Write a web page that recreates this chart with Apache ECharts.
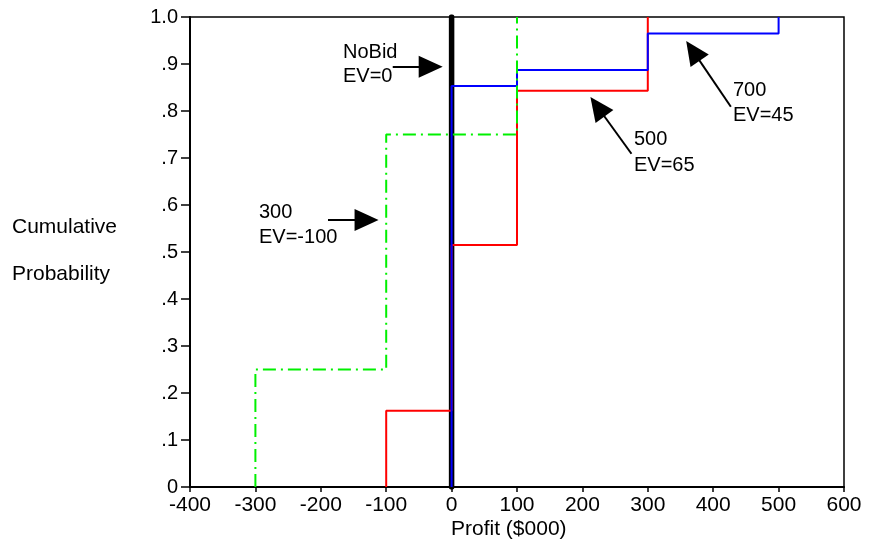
<!DOCTYPE html>
<html>
<head>
    <meta charset="UTF-8">
    <title>Cumulative Probability</title>
    <script src="https://cdn.jsdelivr.net/npm/echarts@6/dist/echarts.min.js"></script>
    <style>
        html, body { margin: 0; padding: 0; background: #fff; }
        #main { width: 869px; height: 548px; }
    </style>
</head>
<body>
    <div id="main"></div>
    <script type="text/javascript">
        // 各方案的利润跳点和累计概率
        var noBidProfit = [0, 0];
        var noBidCum = [0, 1.0];
        var bid300Profit = [-300, -300, -100, 100];
        var bid300Cum = [0, 0.25, 0.75, 1.0];
        var bid500Profit = [-100, -100, 0, 100, 300];
        var bid500Cum = [0, 0.162, 0.515, 0.843, 1.0];
        var bid700Profit = [0, 0, 100, 300, 500];
        var bid700Cum = [0, 0.853, 0.887, 0.965, 1.0];

        // 刻度标签
        var yTickLabels = ['0', '.1', '.2', '.3', '.4', '.5', '.6', '.7', '.8', '.9', '1.0'];

        // 箭头 (起点, 三角形中心) 数据坐标
        var arrows = [
            [[-90, 0.894], [-32, 0.894]],
            [[-189, 0.568], [-130, 0.568]],
            [[275, 0.709], [223, 0.809]],
            [[427, 0.809], [369, 0.928]]
        ];

        function pairs(xs, ys) {
            var out = [];
            for (var i = 0; i < xs.length; i++) out.push([xs[i], ys[i]]);
            return out;
        }

        var font = 'Liberation Sans, Arial, sans-serif';
        var myChart = echarts.init(document.getElementById('main'));

        var option = {
            animation: false,
            backgroundColor: '#fff',
            textStyle: { fontFamily: font, color: '#000' },
            grid: {
                left: 190, right: 25, top: 17, bottom: 61,
                show: true, borderColor: '#000', borderWidth: 1.5,
                backgroundColor: 'transparent'
            },
            xAxis: {
                type: 'value',
                min: -400, max: 600, interval: 100,
                axisLine: { onZero: false, lineStyle: { color: '#000', width: 2 } },
                axisTick: { show: true, length: 5, inside: false, lineStyle: { color: '#000', width: 1.5 } },
                axisLabel: { color: '#000', fontSize: 21, fontFamily: font, margin: 8 },
                splitLine: { show: false }
            },
            yAxis: {
                type: 'value',
                min: 0, max: 1, interval: 0.1,
                axisLine: { show: true, onZero: false, lineStyle: { color: '#000', width: 2 } },
                axisTick: { show: true, length: 9, lineStyle: { color: '#000', width: 1.5 } },
                axisLabel: {
                    color: '#000', fontSize: 20, fontFamily: font, margin: 12,
                    formatter: function (v) { return yTickLabels[Math.round(v * 10)]; }
                },
                splitLine: { show: false }
            },
            series: [
                {
                    name: 'NoBid',
                    type: 'line',
                    data: pairs(noBidProfit, noBidCum),
                    showSymbol: false,
                    lineStyle: { color: '#000', width: 5.5, cap: 'round' },
                    z: 1,
                    markLine: {
                        silent: true,
                        symbol: ['none', 'triangle'],
                        symbolSize: [22, 24],
                        label: { show: false },
                        lineStyle: { color: '#000', width: 2, type: 'solid' },
                        itemStyle: { color: '#000' },
                        data: arrows.map(function (a) {
                            return [{ coord: a[0] }, { coord: a[1] }];
                        })
                    }
                },
                {
                    name: '500',
                    type: 'line',
                    step: 'end',
                    data: pairs(bid500Profit, bid500Cum),
                    showSymbol: false,
                    lineStyle: { color: '#ff0000', width: 2 },
                    z: 2
                },
                {
                    name: '700',
                    type: 'line',
                    step: 'end',
                    data: pairs(bid700Profit, bid700Cum),
                    showSymbol: false,
                    lineStyle: { color: '#0000ff', width: 2 },
                    z: 3
                },
                {
                    name: '300',
                    type: 'line',
                    step: 'end',
                    data: pairs(bid300Profit, bid300Cum),
                    showSymbol: false,
                    lineStyle: { color: '#00f000', width: 2, type: [13, 5, 2, 5] },
                    z: 4
                }
            ],
            graphic: [
                { type: 'text', left: 12, top: 217, style: { text: 'Cumulative', font: '21px ' + font, fill: '#000' } },
                { type: 'text', left: 12, top: 264, style: { text: 'Probability', font: '21px ' + font, fill: '#000' } },
                { type: 'text', left: 451, top: 519, style: { text: 'Profit ($000)', font: '21px ' + font, fill: '#000' } },
                { type: 'text', left: 343, top: 40, style: { text: 'NoBid\nEV=0', font: '20px ' + font, fill: '#000', lineHeight: 24 } },
                { type: 'text', left: 259, top: 200, style: { text: '300\nEV=-100', font: '20px ' + font, fill: '#000', lineHeight: 25 } },
                { type: 'text', left: 634, top: 126, style: { text: '500\nEV=65', font: '20px ' + font, fill: '#000', lineHeight: 26 } },
                { type: 'text', left: 733, top: 78, style: { text: '700\nEV=45', font: '20px ' + font, fill: '#000', lineHeight: 25 } }
            ]
        };

        myChart.setOption(option);
    </script>
</body>
</html>
